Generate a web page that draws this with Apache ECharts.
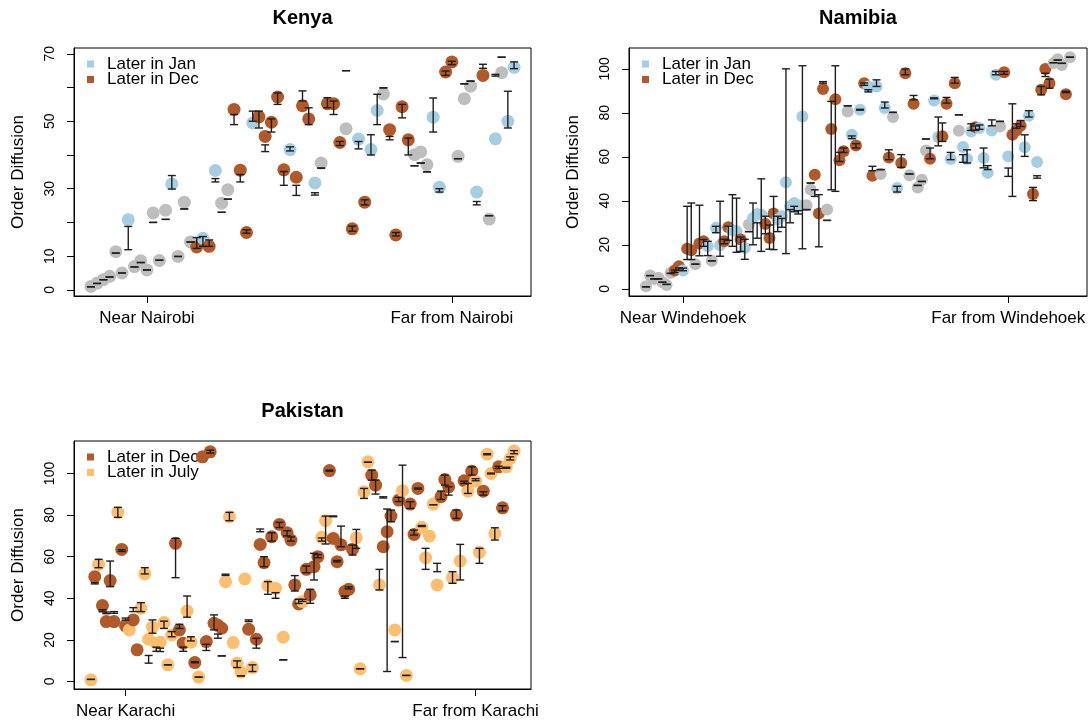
<!DOCTYPE html>
<html>
<head>
<meta charset="utf-8">
<script src="https://cdn.jsdelivr.net/npm/echarts@6/dist/echarts.min.js"></script>
<style>
  html, body { margin: 0; padding: 0; background: #ffffff; }
  #chart { width: 1092px; height: 724px; }
</style>
</head>
<body>
<div id="chart"></div>
<script>
// ---- Kenya: points ordered by distance rank from Nairobi ----
const kenyaGroups = 'GGGGGGBGGGGGGBGGGRBRBGGRRRBRRRRRBRRRBGRRRGRBRBBGRRRRGGGBBRRGGGBRGBGBB'.split('');
const kenyaValues = [1.0,2.0,3.0,4.0,11.3,5.0,20.8,6.9,8.6,5.9,
  22.8,8.7,23.6,31.4,9.9,26.0,14.2,12.7,15.3,12.9,
  35.4,25.7,29.7,53.5,35.5,17.0,49.5,51.3,45.5,49.7,
  57.2,35.6,41.6,33.4,54.6,50.7,31.7,37.6,55.2,55.2,
  43.7,47.8,18.1,44.7,26.0,41.6,53.2,58.1,47.5,16.3,
  54.3,44.5,40.1,40.9,37.1,51.2,30.4,64.6,67.6,39.6,
  56.7,60.4,29.0,63.6,21.0,44.8,64.4,50.0,66.0];
const kenyaLow = [0.9,1.9,3.0,3.8,10.9,5.0,11.9,6.8,8.1,5.9,
  20.0,8.8,20.9,29.9,9.9,24.0,14.2,12.3,12.9,12.9,
  32.0,23.0,26.9,49.0,32.0,16.8,50.0,48.0,41.0,46.8,
  55.0,31.0,41.2,28.0,56.0,49.0,28.1,36.1,54.0,52.0,
  42.8,65.0,17.4,41.8,25.2,40.0,49.0,59.9,44.5,16.0,
  51.0,40.0,36.8,37.6,35.0,46.8,29.0,63.6,66.8,38.9,
  61.1,61.9,25.2,65.7,22.0,63.4,69.0,48.0,65.6];
const kenyaHigh = [0.9,1.9,3.0,3.8,10.9,5.0,18.8,6.8,8.1,5.9,
  20.0,8.8,20.9,33.9,9.9,24.0,14.2,15.5,15.8,14.8,
  33.0,23.0,26.9,52.0,34.2,17.8,53.0,53.0,43.0,50.7,
  58.4,35.1,42.4,31.0,59.0,54.0,28.8,36.1,57.0,56.0,
  44.0,65.0,18.9,44.0,26.7,46.0,58.0,59.9,45.5,17.0,
  55.0,45.0,36.8,37.6,35.0,56.9,30.0,64.9,67.8,38.9,
  61.1,61.9,26.2,66.9,22.0,63.9,69.0,58.9,67.6];
const kenyaXTicks = [10, 59];
const kenyaXLabels = ['Near Nairobi', 'Far from Nairobi'];
const kenyaYTicks = [0, 10, 20, 30, 40, 50, 60, 70];
const kenyaYLabels = [0, 10, 30, 50, 70];
const kenyaLegend = [['Later in Jan', 'B'], ['Later in Dec', 'R']];

// ---- Namibia: points ordered by distance rank from Windhoek ----
const namibiaGroups = ('GGGGGGGRRB' + 'RRGRRBGBBR' + 'RBBRBGBBBR' + 'RRBBBBBBBG' + 'GRRRGRRRRG' +
  'BRBRBRBGBR' + 'GBRRGRGGGR' + 'BBRRBRGBBB' + 'RBBBBBGRBR' + 'RRBBRBRRRG' + 'GGRG').split('');
const namibiaValues = [1.2,6.0,4.5,5.0,3.0,1.7,7.3,8.3,10.3,8.3,
  18.2,17.5,11.2,20.6,21.6,19.3,12.7,27.7,19.8,21.6,
  28.0,26.6,26.2,22.4,18.6,29.2,32.2,34.0,33.7,29.5,
  23.1,34.2,31.5,33.0,48.4,37.5,39.0,38.0,78.3,38.0,
  45.1,51.9,34.2,90.8,36.0,72.6,86.2,58.4,62.5,80.6,
  70.0,65.2,81.4,93.5,92.0,51.4,92.0,52.2,82.2,59.7,
  78.1,45.8,57.2,98.0,51.6,84.1,46.1,49.6,62.9,59.1,
  85.6,69.0,69.3,84.1,59.0,93.5,71.9,64.5,59.0,71.5,
  73.5,73.1,59.5,52.7,72.0,97.3,73.8,98.5,60.2,70.0,
  72.0,74.1,64.3,78.7,43.1,57.6,90.5,99.9,93.5,102.6,
  104.4,101.8,88.5,105.3];
const namibiaLow = [0.9,6.0,4.5,4.5,3.0,2.0,7.0,7.5,8.5,8.2,
  13.3,13.3,11.2,15.0,19.3,15.1,12.7,25.5,14.8,20.5,
  22.0,19.3,16.6,17.0,13.4,26.0,20.0,23.0,17.0,25.0,
  18.0,17.8,26.0,28.0,16.0,30.0,35.0,34.0,18.2,36.0,
  48.1,42.0,19.1,93.5,31.1,45.0,44.3,57.9,62.0,83.2,
  68.3,64.0,81.2,92.5,89.5,53.7,92.0,54.2,82.2,58.7,
  80.2,44.0,55.2,97.3,52.2,85.9,47.0,48.8,68.1,59.1,
  86.4,65.0,67.0,84.4,58.7,93.5,79.1,57.5,57.2,72.0,
  72.0,72.5,55.0,54.2,74.1,97.3,76.1,97.5,51.1,42.0,
  73.0,73.8,60.2,78.1,40.1,50.3,88.2,96.5,91.2,102.8,
  104.0,102.5,89.2,105.3];
const namibiaHigh = [0.9,6.0,4.5,4.5,3.0,2.0,7.0,8.5,9.5,9.4,
  37.5,39.0,11.2,38.0,22.4,21.6,12.7,28.4,39.8,22.5,
  28.5,42.8,41.2,23.5,22.5,26.0,39.0,30.0,50.0,33.0,
  29.0,42.0,33.0,32.0,100.0,36.0,37.5,35.5,101.4,36.0,
  48.1,45.0,42.8,94.2,31.1,85.2,101.4,62.0,64.0,83.2,
  69.5,66.0,81.6,93.6,90.5,55.7,95.0,54.2,84.9,63.2,
  80.2,46.6,61.0,99.9,52.2,87.9,47.0,48.8,68.1,64.0,
  86.8,78.1,75.4,87.0,62.0,96.1,79.1,61.0,63.2,75.0,
  74.0,74.5,64.0,56.0,76.8,98.8,76.1,98.8,54.9,84.1,
  75.0,76.5,70.0,81.0,46.1,51.4,92.0,98.0,95.3,102.8,
  104.0,102.5,89.8,105.3];
const namibiaXTicks = [10, 89];
const namibiaXLabels = ['Near Windehoek', 'Far from Windehoek'];
const namibiaYTicks = [0, 20, 40, 60, 80, 100];
const namibiaYLabels = [0, 20, 40, 60, 80, 100];
const namibiaLegend = [['Later in Jan', 'B'], ['Later in Dec', 'R']];

// ---- Pakistan: points ordered by distance rank from Karachi ----
const pakistanGroups = ('ORORRRRORR' + 'ORROOOOOOO' + 'OORRROOROR' + 'RRRRROOOOO' + 'ORORRROROR' +
  'ORRRRORRRR' + 'OORRRRRRRO' + 'OOORRORRRO' + 'ROORRROOOO' + 'ORRROROROR' +
  'OOROOORROOO').split('');
const pakistanValues = [0.8,50.4,56.3,36.5,28.8,48.5,28.8,81.3,63.5,26.7,
  24.8,29.6,15.2,35.2,51.7,20.3,26.1,18.4,18.9,28.3,
  8.0,22.4,66.4,24.8,18.4,33.9,18.9,9.1,2.1,108.0,
  19.2,110.4,28.0,27.0,25.6,48.0,79.2,18.7,8.8,4.5,
  49.3,25.1,6.7,20.3,65.9,57.1,46.1,69.6,44.8,75.5,
  21.3,71.5,68.0,46.4,37.3,38.4,53.9,41.6,55.2,60.0,
  69.3,77.3,101.4,68.8,57.6,65.7,43.2,44.3,63.6,69.1,
  6.1,91.2,105.6,99.2,94.4,46.4,64.8,72.0,79.5,24.8,
  87.2,91.7,2.9,85.3,70.7,92.8,74.1,59.5,69.9,85.3,
  46.4,88.8,97.1,93.6,49.9,80.0,57.9,96.5,91.5,101.1,
  96.3,62.1,91.5,109.3,100.0,71.2,103.2,83.5,103.2,107.2,
  110.8];
const pakistanLow = [1.0,46.9,54.7,33.5,32.6,45.6,32.8,78.9,62.5,29.5,
  null,33.6,null,33.6,51.7,8.8,23.2,14.5,14.4,25.5,
  8.0,21.5,49.9,25.5,14.5,30.9,19.5,9.0,2.1,null,
  14.9,109.8,24.8,20.8,12.3,51.0,77.3,null,6.7,2.7,
  null,28.8,4.8,16.0,72.0,55.2,41.9,67.5,40.0,74.0,
  10.4,70.0,67.5,43.5,37.5,38.5,52.3,37.6,48.8,59.5,
  67.5,66.1,101.1,79.2,57.5,64.8,40.0,44.5,60.8,64.0,
  6.1,88.0,105.4,96.8,90.1,44.0,88.2,4.8,76.8,19.2,
  86.5,11.5,2.9,83.2,70.4,92.5,74.5,53.9,null,85.0,
  52.8,87.5,94.4,89.6,47.2,78.4,48.8,95.2,90.4,99.2,
  96.5,56.8,89.6,109.0,99.8,68.0,102.5,82.0,102.5,106.5,
  109.5];
const pakistanHigh = [1.0,47.5,58.7,34.5,33.4,57.9,33.6,83.7,63.3,30.5,
  null,35.5,null,37.9,54.7,12.5,29.6,16.5,16.0,29.0,
  8.0,24.0,68.8,27.5,16.5,41.1,21.5,9.5,2.1,null,
  17.9,111.2,32.0,22.8,12.3,51.6,81.3,null,9.9,2.7,
  null,29.6,8.0,20.8,73.3,60.0,48.0,71.5,42.7,76.5,
  10.4,72.5,69.5,50.9,39.5,39.5,55.5,44.3,61.6,61.0,
  69.0,79.5,101.6,79.6,58.2,74.7,41.1,45.5,65.6,73.1,
  6.1,92.8,105.4,101.6,96.8,53.9,88.8,82.9,82.4,19.2,
  88.5,104.0,2.9,86.4,72.8,93.0,75.0,64.0,null,85.0,
  56.8,91.5,99.2,93.6,52.8,82.4,65.9,96.3,95.2,103.2,
  97.5,64.0,91.2,109.5,100.2,73.9,103.5,84.5,103.0,108.0,
  111.0];
const pakistanXTicks = [10, 101];
const pakistanXLabels = ['Near Karachi', 'Far from Karachi'];
const pakistanYTicks = [0, 20, 40, 60, 80, 100];
const pakistanYLabels = [0, 20, 40, 60, 80, 100];
const pakistanLegend = [['Later in Dec', 'R'], ['Later in July', 'O']];

// ---- styling ----
const FONT = '"Liberation Sans", Arial, Helvetica, sans-serif';
const groupColors = { B: '#A6CEE3', R: '#B15928', O: '#FDBF6F', G: '#BEBEBE' };
const BAR_COLOR = '#1e1e1e';

const panels = [
  { title: 'Kenya', values: kenyaValues, lo: kenyaLow, hi: kenyaHigh, groups: kenyaGroups,
    xTicks: kenyaXTicks, xLabels: kenyaXLabels, yTicks: kenyaYTicks, yLabels: kenyaYLabels,
    legend: kenyaLegend, box: { left: 74, top: 48, width: 457, height: 248 }, size: 13 },
  { title: 'Namibia', values: namibiaValues, lo: namibiaLow, hi: namibiaHigh, groups: namibiaGroups,
    xTicks: namibiaXTicks, xLabels: namibiaXLabels, yTicks: namibiaYTicks, yLabels: namibiaYLabels,
    legend: namibiaLegend, box: { left: 629, top: 48, width: 458, height: 248 }, size: 12 },
  { title: 'Pakistan', values: pakistanValues, lo: pakistanLow, hi: pakistanHigh, groups: pakistanGroups,
    xTicks: pakistanXTicks, xLabels: pakistanXLabels, yTicks: pakistanYTicks, yLabels: pakistanYLabels,
    legend: pakistanLegend, box: { left: 74, top: 441, width: 457, height: 248 }, size: 13 }
];

// vertical interval with end caps; a zero-length interval becomes a single dash
function renderErrorBar(params, api) {
  const x = api.value(0);
  const a = api.coord([x, api.value(1)]);
  const b = api.coord([x, api.value(2)]);
  const w = 4;
  const style = { stroke: BAR_COLOR, lineWidth: 1.4 };
  return {
    type: 'group',
    children: [
      { type: 'line', shape: { x1: a[0], y1: a[1], x2: b[0], y2: b[1] }, style: style },
      { type: 'line', shape: { x1: a[0] - w, y1: a[1], x2: a[0] + w, y2: a[1] }, style: style },
      { type: 'line', shape: { x1: b[0] - w, y1: b[1], x2: b[0] + w, y2: b[1] }, style: style }
    ]
  };
}

const option = {
  animation: false,
  backgroundColor: '#ffffff',
  grid: [], xAxis: [], yAxis: [], series: [], graphic: []
};

panels.forEach(function (p, i) {
  const n = p.values.length;
  const xPad = 0.04 * (n - 1);
  const finite = p.values.concat(p.lo, p.hi).filter(function (v) { return v != null; });
  const yMin = Math.min.apply(null, finite);
  const yMax = Math.max.apply(null, finite);
  const yPad = 0.04 * (yMax - yMin);
  const b = p.box;

  option.grid.push({
    left: b.left, top: b.top, width: b.width, height: b.height,
    show: true, borderColor: '#000', borderWidth: 1, backgroundColor: 'transparent'
  });

  option.xAxis.push({
    type: 'value', gridIndex: i, min: 1 - xPad, max: n + xPad, position: 'bottom',
    axisLine: { show: true, onZero: false, lineStyle: { color: '#000', width: 1 } },
    splitLine: { show: false },
    axisTick: { show: true, inside: false, customValues: p.xTicks, length: 7, lineStyle: { color: '#000' } },
    axisLabel: {
      show: true, customValues: p.xTicks, margin: 14,
      fontFamily: FONT, fontSize: 17, color: '#000',
      formatter: function (v) {
        let k = 0;
        p.xTicks.forEach(function (t, j) { if (Math.abs(t - v) < Math.abs(p.xTicks[k] - v)) k = j; });
        return p.xLabels[k];
      }
    }
  });

  option.yAxis.push({
    type: 'value', gridIndex: i, min: yMin - yPad, max: yMax + yPad, position: 'left',
    name: 'Order Diffusion', nameLocation: 'middle', nameGap: 47,
    nameTextStyle: { fontFamily: FONT, fontSize: 17, color: '#000' },
    axisLine: { show: true, onZero: false, lineStyle: { color: '#000', width: 1 } },
    splitLine: { show: false },
    axisTick: { show: true, inside: false, customValues: p.yTicks, length: 7, lineStyle: { color: '#000' } },
    axisLabel: { show: true, customValues: p.yLabels, rotate: 90, margin: 17,
      fontFamily: FONT, fontSize: 14, color: '#000' }
  });

  option.series.push({
    type: 'scatter', xAxisIndex: i, yAxisIndex: i, symbol: 'circle', symbolSize: p.size,
    silent: true, z: 2,
    data: p.values.map(function (v, k) {
      return { value: [k + 1, v], itemStyle: { color: groupColors[p.groups[k]], opacity: 1 } };
    })
  });

  const bars = [];
  p.values.forEach(function (v, k) {
    if (p.lo[k] != null && p.hi[k] != null) bars.push([k + 1, p.lo[k], p.hi[k]]);
  });
  option.series.push({
    type: 'custom', xAxisIndex: i, yAxisIndex: i, silent: true, z: 3,
    renderItem: renderErrorBar, encode: { x: 0, y: [1, 2] }, data: bars
  });

  // panel title
  option.graphic.push({
    type: 'text', x: b.left + b.width / 2, y: b.top - 30,
    style: { text: p.title, align: 'center', verticalAlign: 'middle',
      fontFamily: FONT, fontSize: 20, fontWeight: 'bold', fill: '#000' }
  });

  // legend keys
  p.legend.forEach(function (entry, k) {
    const cy = b.top + 16 + k * 15.5;
    option.graphic.push({
      type: 'rect', shape: { x: b.left + 13, y: cy - 3.5, width: 7, height: 7 },
      style: { fill: groupColors[entry[1]] }
    });
    option.graphic.push({
      type: 'text', x: b.left + 33, y: cy,
      style: { text: entry[0], align: 'left', verticalAlign: 'middle',
        fontFamily: FONT, fontSize: 17, fill: '#000' }
    });
  });
});

const chart = echarts.init(document.getElementById('chart'), null, { renderer: 'canvas' });
chart.setOption(option);
</script>
</body>
</html>
